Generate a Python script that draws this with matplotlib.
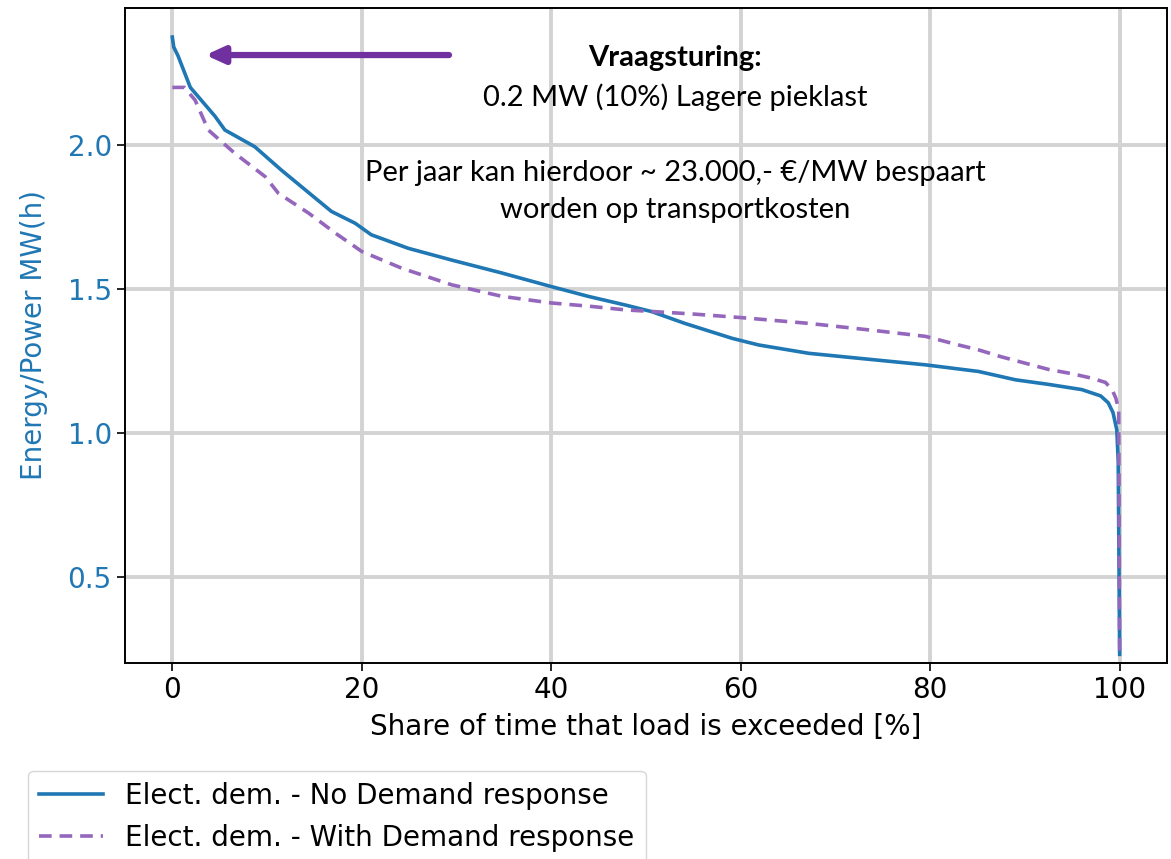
import matplotlib.pyplot as plt
import numpy as np

# load duration curves
share_no_dr = [0.0, 0.15, 0.6, 1.9, 4.5, 5.55, 8.7, 11.5, 14.7, 16.8, 19.3, 21.0, 24.9,
               29.5, 34.8, 40.0, 43.9, 47.8, 50.6, 54.1, 59.1, 61.9, 67.2, 72.4, 79.5,
               85.1, 89.0, 92.5, 96.0, 98.0, 98.8, 99.3, 99.7, 99.85, 100.0]
load_no_dr = [2.375, 2.34, 2.31, 2.20, 2.10, 2.052, 1.994, 1.913, 1.826, 1.769, 1.728, 1.688, 1.641,
              1.60, 1.555, 1.508, 1.474, 1.444, 1.421, 1.38, 1.328, 1.305, 1.276, 1.259, 1.236,
              1.213, 1.184, 1.168, 1.15, 1.128, 1.104, 1.07, 1.01, 0.90, 0.23]

share_dr = [0.0, 1.27, 2.4, 3.8, 6.6, 9.8, 11.2, 14.4, 17.2, 20.0, 24.2, 29.5, 34.8,
            40.0, 43.9, 47.8, 54.8, 60.1, 67.2, 74.2, 79.5, 83.0, 85.1, 87.5, 92.5,
            95.0, 97.0, 98.5, 99.2, 99.6, 99.9, 100.0]
load_dr = [2.20, 2.20, 2.156, 2.052, 1.971, 1.89, 1.832, 1.763, 1.694, 1.63, 1.572, 1.514, 1.474,
           1.451, 1.44, 1.427, 1.413, 1.40, 1.38, 1.355, 1.335, 1.305, 1.288, 1.264, 1.22,
           1.205, 1.19, 1.175, 1.15, 1.12, 1.08, 0.23]

label_no_dr = 'Elect. dem. - No Demand response'
label_dr = 'Elect. dem. - With Demand response'

fig = plt.figure(figsize=(11.71, 8.59), dpi=100)
ax = fig.add_axes([0.1067, 0.2282, 0.8899, 0.7625])

ax.plot(share_no_dr, load_no_dr, color='#1f77b4', lw=2.6, label=label_no_dr)
ax.plot(share_dr, load_dr, color='#9467bd', lw=2.6, ls='--', dashes=(3.5, 2.2), label=label_dr)

ax.set_xlim(-5, 105)
ax.set_ylim(0.2, 2.476)
ax.set_xticks([0, 20, 40, 60, 80, 100])
ax.set_yticks([0.5, 1.0, 1.5, 2.0])
ax.grid(True, color='#d3d3d3', lw=2.8)
ax.set_axisbelow(True)
ax.tick_params(labelsize=20, length=6, width=1.2)
ax.tick_params(axis='y', labelcolor='#1f77b4')
for s in ax.spines.values():
    s.set_linewidth(1.4)

ax.set_xlabel('Share of time that load is exceeded [%]', fontsize=20, labelpad=6)
ax.set_ylabel('Energy/Power MW(h)', fontsize=20, color='#1f77b4', labelpad=14)

# annotation arrow and text
ax.annotate('', xy=(3.2, 2.3125), xytext=(29.5, 2.3125),
            arrowprops=dict(arrowstyle='-|>,head_length=1.1,head_width=0.5',
                            color='#7030a0', lw=4.5))
txt = dict(ha='center', va='center', fontsize=21, family=['Lato', 'DejaVu Sans'])
ax.text(53.1, 2.302, 'Vraagsturing:', fontweight='bold', **txt)
ax.text(53.1, 2.167, '0.2 MW (10%) Lagere pieklast', **txt)
ax.text(53.1, 1.903, 'Per jaar kan hierdoor ~ 23.000,- €/MW bespaart', **txt)
ax.text(53.1, 1.774, 'worden op transportkosten', **txt)

fig.legend(loc='upper left', bbox_to_anchor=(0.024, 0.103), fontsize=20,
           frameon=True, borderaxespad=0, handlelength=2.3)

fig.savefig('out.png', dpi=100)
